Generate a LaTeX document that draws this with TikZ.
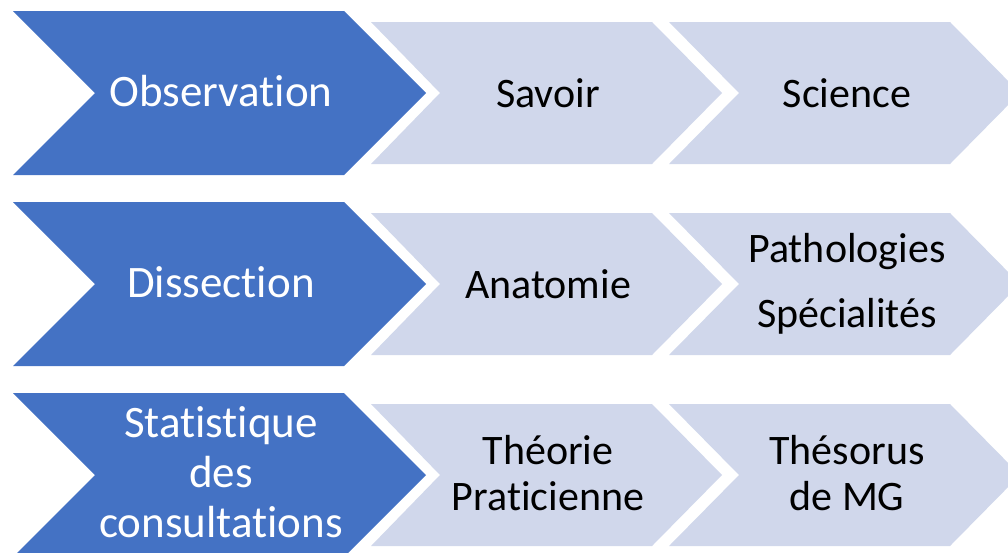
\documentclass[tikz,border=0pt]{standalone}
\usepackage{fontspec}
\setmainfont{Carlito}[Ligatures={NoCommon,NoContextual}]
\definecolor{accblue}{RGB}{68,114,196}
\definecolor{paleblue}{RGB}{208,215,235}
\begin{document}
\begin{tikzpicture}[x=1pt,y=-1pt,
  darkchev/.style={fill=accblue},
  lightchev/.style={fill=paleblue},
  darklabel/.style={text=white,font=\fontsize{45}{50}\selectfont,align=center,inner sep=0pt},
  lightlabel/.style={text=black,font=\fontsize{42}{46}\selectfont,align=center,inner sep=0pt}]
\useasboundingbox (0,0) rectangle (1008,552);
\clip (0,0) rectangle (1008,552);
\foreach \cy in {93,284,475} {
  \fill[darkchev] (13,{\cy-82}) -- (344,{\cy-82}) -- (426,\cy) -- (344,{\cy+82}) -- (13,{\cy+82}) -- (95,\cy) -- cycle;
  \fill[lightchev] (371,{\cy-71}) -- (652,{\cy-71}) -- (722,\cy) -- (652,{\cy+71}) -- (371,{\cy+71}) -- (440,\cy) -- cycle;
  \fill[lightchev] (669,{\cy-71}) -- (950,{\cy-71}) -- (1020,\cy) -- (950,{\cy+71}) -- (669,{\cy+71}) -- (739,\cy) -- cycle;
}
% row 1
\node[darklabel,anchor=base] (obs) at (221,106) {Observation};
\node[lightlabel,anchor=base] (savoir) at (548,107) {Savoir};
\node[lightlabel,anchor=base] (science) at (847,107) {Science};
% row 2
\node[darklabel,anchor=base] (dissection) at (221,297) {Dissection};
\node[lightlabel,anchor=base] (anatomie) at (548,298) {Anatomie};
\node[lightlabel] (patho) at (847,284) {Pathologies\\[19pt]Spécialités};
% row 3
\node[darklabel] (stat) at (221,472) {Statistique\\des\\consultations};
\node[lightlabel] (theorie) at (548,473) {Théorie\\Praticienne};
\node[lightlabel] (thesorus) at (847,473) {Thésorus\\de MG};
\end{tikzpicture}
\end{document}
